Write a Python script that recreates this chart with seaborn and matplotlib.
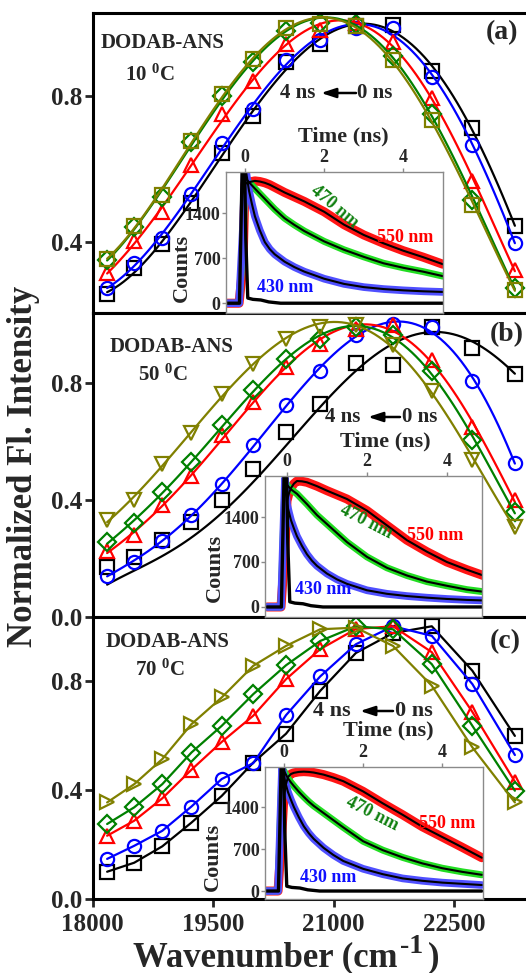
import numpy as np
import pandas as pd
import matplotlib
matplotlib.use("Agg")
import matplotlib.pyplot as plt
from matplotlib.ticker import FormatStrFormatter
import seaborn as sns

# ---------------------------------------------------------------- data
wavenumber = [18182, 18519, 18868, 19231, 19608, 20000, 20408,
              20833, 21277, 21739, 22222, 22727, 23256]

# time-resolved emission spectra, 10 °C (delays 0, 1, 2, 3, 4 ns)
a_0ns = [0.260, 0.329, 0.395, 0.508, 0.645, 0.746, 0.894, 0.943, 0.990, 0.993, 0.868, 0.713, 0.444]
a_1ns = [0.274, 0.343, 0.413, 0.531, 0.672, 0.765, 0.899, 0.952, 0.985, 0.987, 0.852, 0.665, 0.399]
a_2ns = [0.315, 0.403, 0.482, 0.610, 0.750, 0.842, 0.942, 0.980, 1.000, 0.948, 0.794, 0.569, 0.324]
a_3ns = [0.351, 0.442, 0.525, 0.674, 0.801, 0.892, 0.978, 1.000, 0.996, 0.910, 0.751, 0.515, 0.275]
a_4ns = [0.355, 0.446, 0.530, 0.678, 0.806, 0.901, 0.987, 0.996, 0.992, 0.899, 0.733, 0.503, 0.270]

# 50 °C
b_0ns = [0.172, 0.205, 0.262, 0.325, 0.399, 0.505, 0.632, 0.728, 0.866, 0.862, 0.990, 0.920, 0.830]
b_1ns = [0.141, 0.189, 0.261, 0.347, 0.455, 0.586, 0.723, 0.839, 0.964, 1.000, 0.990, 0.805, 0.527]
b_2ns = [0.224, 0.280, 0.381, 0.481, 0.620, 0.734, 0.854, 0.933, 0.985, 0.998, 0.877, 0.649, 0.398]
b_3ns = [0.255, 0.321, 0.426, 0.529, 0.654, 0.774, 0.882, 0.948, 0.990, 0.964, 0.839, 0.603, 0.358]
b_4ns = [0.330, 0.398, 0.523, 0.629, 0.762, 0.865, 0.950, 0.990, 0.996, 0.928, 0.771, 0.535, 0.307]
# fitted 0 ns spectrum at 50 °C (the fit runs below the scattered points)
b_0ns_fit = [0.112, 0.154, 0.211, 0.274, 0.353, 0.456, 0.593, 0.718, 0.832, 0.935, 0.980, 0.935, 0.832]

# 70 °C
c_0ns = [0.100, 0.133, 0.193, 0.280, 0.378, 0.500, 0.606, 0.763, 0.902, 0.975, 1.000, 0.837, 0.598]
c_1ns = [0.147, 0.195, 0.250, 0.339, 0.440, 0.498, 0.674, 0.816, 0.934, 1.000, 0.965, 0.788, 0.528]
c_2ns = [0.232, 0.287, 0.369, 0.474, 0.576, 0.672, 0.806, 0.916, 0.990, 1.000, 0.905, 0.686, 0.430]
c_3ns = [0.275, 0.336, 0.421, 0.537, 0.635, 0.751, 0.857, 0.946, 1.000, 0.989, 0.861, 0.635, 0.397]
c_4ns = [0.354, 0.421, 0.513, 0.641, 0.739, 0.855, 0.928, 0.989, 0.995, 0.928, 0.782, 0.556, 0.354]

delays = ["0 ns", "1 ns", "2 ns", "3 ns", "4 ns"]
x_ticks = [18000, 19500, 21000, 22500]

# fluorescence decays (counts) at 430 / 470 / 550 nm
decay_time = [-0.5, -0.15, -0.05, 0.0, 0.05, 0.1, 0.175, 0.25, 0.375, 0.5, 0.625,
              0.75, 1.0, 1.25, 1.5, 2.0, 2.5, 3.0, 3.5, 4.0, 4.5, 5.0]
a_430 = [0, 0, 1200, 2150, 1950, 1750, 1540, 1350, 1130, 950, 840,
         760, 645, 560, 490, 380, 300, 250, 220, 200, 185, 175]
a_470 = [0, 0, 900, 1950, 1915, 1880, 1830, 1780, 1700, 1620, 1540,
         1460, 1320, 1215, 1120, 960, 830, 720, 620, 550, 490, 420]
a_550 = [0, 0, 600, 1850, 1870, 1880, 1890, 1900, 1890, 1870, 1840,
         1800, 1720, 1650, 1580, 1420, 1220, 1060, 930, 815, 715, 605]
b_430 = [0, 0, 2000, 1600, 1470, 1350, 1220, 1100, 950, 820, 720,
         640, 520, 430, 360, 260, 205, 170, 145, 125, 110, 100]
b_470 = [0, 0, 1950, 1900, 1865, 1830, 1795, 1760, 1680, 1600, 1515,
         1430, 1290, 1150, 1010, 780, 610, 490, 395, 330, 270, 230]
b_550 = [0, 0, 900, 1650, 1770, 1850, 1920, 1960, 1955, 1940, 1910,
         1880, 1810, 1745, 1680, 1500, 1270, 1040, 860, 700, 580, 470]
c_430 = [0, 0, 2050, 1900, 1770, 1650, 1520, 1400, 1230, 1080, 965,
         870, 720, 600, 500, 370, 280, 210, 170, 140, 120, 100]
c_470 = [0, 0, 2040, 2000, 1940, 1880, 1810, 1750, 1655, 1570, 1490,
         1420, 1300, 1180, 1060, 830, 680, 560, 460, 380, 320, 270]
c_550 = [0, 0, 1000, 1600, 1780, 1900, 1950, 1970, 1985, 1990, 1985,
         1975, 1940, 1890, 1830, 1660, 1460, 1270, 1070, 900, 730, 555]

# instrument response function
irf_time = [-0.5, -0.14, -0.1, -0.06, -0.02, 0.02, 0.07, 0.2, 0.4, 0.6, 0.9, 5.0]
irf_counts = [0, 0, 1200, 2500, 2500, 1000, 80, 60, 50, 20, 0, 0]
inset_yticks = [0, 700, 1400]
inset_xticks = [0, 2, 4]

# ---------------------------------------------------------------- style
sns.set_style("ticks")
plt.rcParams["font.family"] = ["Liberation Serif", "DejaVu Serif"]
plt.rcParams["font.weight"] = "bold"
plt.rcParams["mathtext.fontset"] = "custom"
plt.rcParams["mathtext.rm"] = "Liberation Serif:bold"
plt.rcParams["mathtext.it"] = "Liberation Serif:bold:italic"
plt.rcParams["mathtext.bf"] = "Liberation Serif:bold"

W, H = 526, 973
fig = plt.figure(figsize=(W / 100, H / 100), dpi=100)
fig.patch.set_facecolor("white")

series_colors = ["black", "#0000FF", "#FF0000", "#008000", "#808000"]
band_colors = {"430": "#4F4FFF", "470": "#22DD22", "550": "#FF1515"}
band_widths = {"430": 5.5, "470": 5.0, "550": 6.5}
label_colors = {"430": "#1010FF", "470": "#108010", "550": "#FF0000"}


def px_axes(left, top, right, bottom):
    return fig.add_axes([left / W, 1 - bottom / H, (right - left) / W, (bottom - top) / H])


def ftext(x, y, s, **kw):
    kw.setdefault("fontweight", "bold")
    return fig.text(x / W, 1 - y / H, s, **kw)


def main_panel(ax, spectra, markers, fits, ylim, yticks):
    """Open-marker spectra; smooth fitted curves when `fits` is given,
    otherwise straight segments joining the points."""
    for i, (vals, col, mk) in enumerate(zip(spectra, series_colors, markers)):
        df = pd.DataFrame({"wn": wavenumber, "I": vals})
        marker_kw = dict(marker=mk, markersize=9.5, markerfacecolor="none",
                         markeredgecolor=col, markeredgewidth=1.6, color=col)
        if fits is not None:
            fit = pd.DataFrame({"wn": wavenumber, "I": fits[i]})
            sns.regplot(data=fit, x="wn", y="I", order=5, ci=None, scatter=False,
                        truncate=True, ax=ax, line_kws=dict(color=col, lw=1.6))
            sns.lineplot(data=df, x="wn", y="I", ax=ax, lw=0, **marker_kw)
        else:
            sns.lineplot(data=df, x="wn", y="I", ax=ax, lw=1.6, **marker_kw)
    ax.set_xlim(18000, 23500)
    ax.set_ylim(*ylim)
    ax.set_yticks(yticks)
    ax.yaxis.set_major_formatter(FormatStrFormatter("%.1f"))
    ax.set_xlabel("")
    ax.set_ylabel("")
    for sp in ax.spines.values():
        sp.set_linewidth(2.2)
        sp.set_color("black")
    ax.tick_params(axis="y", direction="out", length=6, width=2, pad=1.5,
                   labelsize=18)
    ax.tick_params(axis="x", direction="out", length=6, width=2, pad=4,
                   labelsize=18)


def inset_panel(box, d430, d470, d550, xlim, ylim):
    ax = px_axes(*box)
    ax.set_facecolor("white")
    for key, vals in (("550", d550), ("470", d470), ("430", d430)):
        sns.lineplot(x=decay_time, y=vals, ax=ax, color=band_colors[key],
                     lw=band_widths[key])
    for vals in (d550, d470, d430):
        sns.lineplot(x=decay_time[3:], y=vals[3:], ax=ax, color="black", lw=1.5)
    sns.lineplot(x=irf_time, y=irf_counts, ax=ax, color="black", lw=2.4)
    ax.set_xlim(*xlim)
    ax.set_ylim(*ylim)
    ax.set_xticks(inset_xticks)
    ax.set_yticks(inset_yticks)
    ax.xaxis.tick_top()
    ax.set_xlabel("")
    ax.set_ylabel("")
    for sp in ax.spines.values():
        sp.set_linewidth(1.0)
        sp.set_color("#8a8a8a")
    ax.tick_params(axis="both", direction="out", length=3, width=1,
                   color="#8a8a8a", labelsize=13, pad=1)
    return ax


# ---------------------------------------------------------------- panels
spec_a = [a_0ns, a_1ns, a_2ns, a_3ns, a_4ns]
spec_b = [b_0ns, b_1ns, b_2ns, b_3ns, b_4ns]
spec_c = [c_0ns, c_1ns, c_2ns, c_3ns, c_4ns]

ax_a = px_axes(92.5, 12.5, 534.5, 313)
main_panel(ax_a, spec_a, ["s", "o", "^", "D", "s"], spec_a,
           (0.207, 1.028), [0.4, 0.8])
ax_a.tick_params(axis="x", bottom=False, labelbottom=False)

ax_b = px_axes(92.5, 313, 534.5, 617)
main_panel(ax_b, spec_b, ["s", "o", "^", "D", "v"], [b_0ns_fit] + spec_b[1:],
           (0.0, 1.038), [0.0, 0.4, 0.8])
ax_b.tick_params(axis="x", bottom=False, labelbottom=False)

ax_c = px_axes(92.5, 617, 534.5, 899)
main_panel(ax_c, spec_c, ["s", "o", "^", "D", ">"], None,
           (0.0, 1.034), [0.0, 0.4, 0.8])
ax_c.set_xticks(x_ticks)

in_a = inset_panel((226, 172, 443, 313), a_430, a_470, a_550, (-0.48, 5.0), (-152, 2038))
in_b = inset_panel((265, 476, 482, 617), b_430, b_470, b_550, (-0.55, 4.88), (-156, 2038))
in_c = inset_panel((265, 767, 483, 899), c_430, c_470, c_550, (-0.48, 5.03), (-133, 2067))

# ---------------------------------------------------------------- annotations
panel_text = [
    dict(tag="(a)", tag_xy=(486, 33), name_xy=(101, 43), temp="10", temp_xy=(125, 75),
         arrow=(280, 321, 356, 357, 93, 15), time_xy=(343, 136), counts_xy=(182, 268),
         l470=(334, 207, -40), l550=(405, 238), l430=(285, 287)),
    dict(tag="(b)", tag_xy=(490, 335), name_xy=(110, 347), temp="50", temp_xy=(138, 375),
         arrow=(325, 368, 400, 402, 417, 15), time_xy=(385, 441), counts_xy=(215, 568),
         l470=(366, 522, -27), l550=(435, 535), l430=(323, 590)),
    dict(tag="(c)", tag_xy=(490, 642), name_xy=(106, 642), temp="70", temp_xy=(135, 670),
         arrow=(313, 360, 393, 395, 711, 16), time_xy=(388, 730), counts_xy=(213, 857),
         l470=(372, 814, -27), l550=(447, 823), l430=(328, 877)),
]

for p in panel_text:
    ftext(*p["tag_xy"], p["tag"], fontsize=20, ha="left", va="center")
    ftext(*p["name_xy"], "DODAB-ANS", fontsize=15, ha="left", va="center")
    ftext(*p["temp_xy"], p["temp"] + r" $^{0}$C", fontsize=15, ha="left", va="center")
    x4, xa1, xa0, x0, yy, fs = p["arrow"]
    ftext(x4, yy, "4 ns", fontsize=fs, ha="left", va="center")
    ftext(x0, yy, "0 ns", fontsize=fs, ha="left", va="center")
    fig.add_artist(matplotlib.patches.FancyArrowPatch(
        (xa0 / W, 1 - yy / H), (xa1 / W, 1 - yy / H), transform=fig.transFigure,
        arrowstyle="-|>,head_length=0.55,head_width=0.18", mutation_scale=16,
        color="black", lw=1.8, shrinkA=0, shrinkB=0))
    ftext(*p["time_xy"], "Time (ns)", fontsize=16, ha="center", va="center")
    ftext(*p["counts_xy"], "Counts", fontsize=16, ha="center", va="center", rotation=90)
    lx, ly, rot = p["l470"]
    ftext(lx, ly, "470 nm", fontsize=13, ha="center", va="center", rotation=rot,
          color=label_colors["470"])
    ftext(*p["l550"], "550 nm", fontsize=13, ha="center", va="center",
          color=label_colors["550"])
    ftext(*p["l430"], "430 nm", fontsize=13, ha="center", va="center",
          color=label_colors["430"])

# axis titles
ftext(24, 466, "Normalized Fl. Intensity", fontsize=25, ha="center", va="center",
      rotation=90)
ftext(133, 966, "Wavenumber (cm", fontsize=25, ha="left", va="baseline")
ftext(400, 953, "-1", fontsize=20, ha="left", va="baseline")
ftext(428, 966, ")", fontsize=25, ha="left", va="baseline")

fig.savefig("out.png", dpi=100, facecolor="white")
